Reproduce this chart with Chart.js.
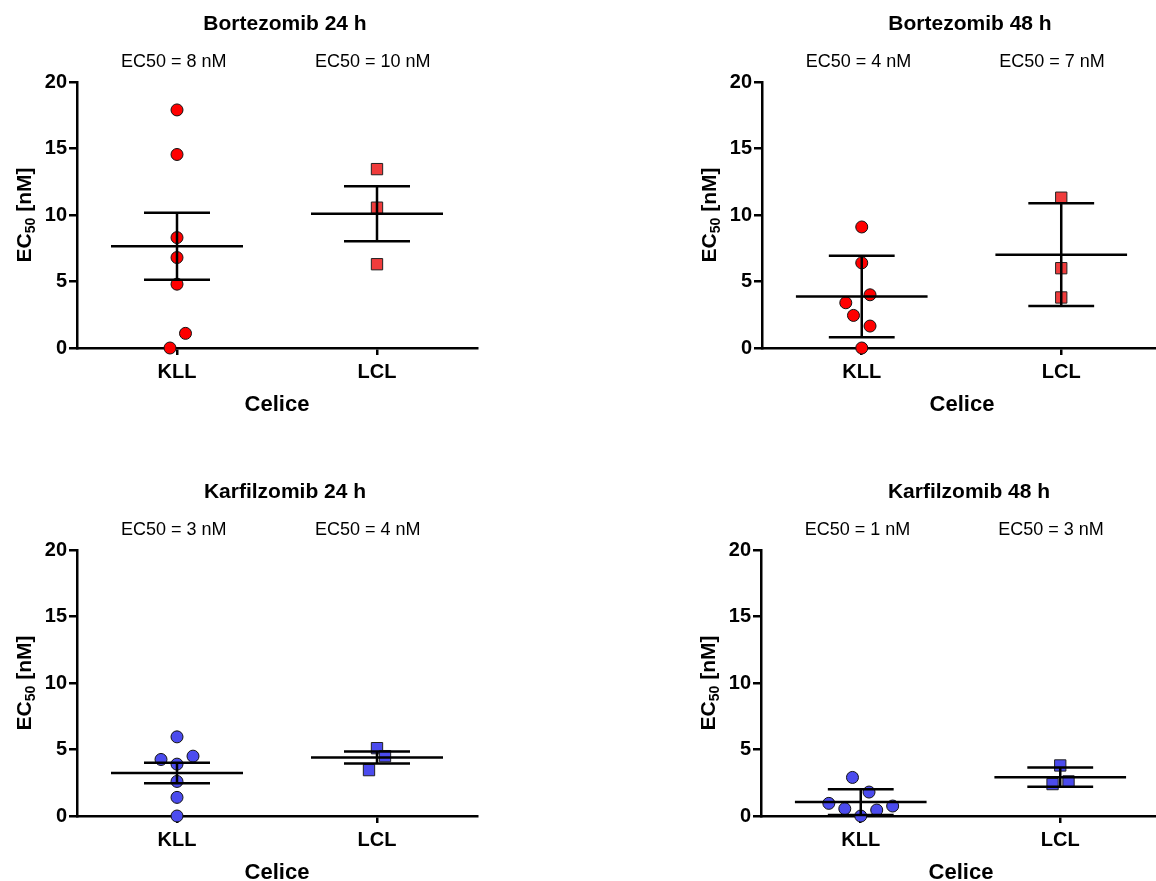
<!DOCTYPE html>
<html><head><meta charset="utf-8">
<script src="https://cdn.jsdelivr.net/npm/chart.js@4/dist/chart.umd.min.js"></script>
<style>
html,body{margin:0;padding:0;background:#fff;overflow:hidden;width:1156px;height:881px;position:relative}
canvas{position:absolute}
</style></head><body>
<canvas id="c0" width="490" height="430" style="left:0px;top:0px"></canvas>
<canvas id="c1" width="479" height="430" style="left:685px;top:0px"></canvas>
<canvas id="c2" width="490" height="430" style="left:0px;top:468px"></canvas>
<canvas id="c3" width="480" height="430" style="left:684px;top:468px"></canvas>
<script>
// ---------- data ----------
const categories = ['KLL', 'LCL'];
const yTickValues = [0, 5, 10, 15, 20];
const panelTitles = ['Bortezomib 24 h', 'Bortezomib 48 h', 'Karfilzomib 24 h', 'Karfilzomib 48 h'];
const ec50KllLabels = ['EC50 = 8 nM', 'EC50 = 4 nM', 'EC50 = 3 nM', 'EC50 = 1 nM'];
const ec50LclLabels = ['EC50 = 10 nM', 'EC50 = 7 nM', 'EC50 = 4 nM', 'EC50 = 3 nM'];
const xAxisTitle = 'Celice';
const yAxisTitleMain = 'EC';
const yAxisTitleSub = '50';
const yAxisTitleRest = ' [nM]';

const bort24Kll = [17.9, 14.55, 8.3, 6.8, 4.8, 1.1, 0];
const bort24KllJitter = [0, 0, 0, 0, 0, 0.085, -0.07];
const bort24Lcl = [13.45, 10.55, 6.3];
const bort24LclJitter = [0, 0, 0];
const bort24Mean = [7.65, 10.1];
const bort24Err = [2.52, 2.07];

const bort48Kll = [9.1, 6.4, 4.0, 3.4, 2.45, 1.65, 0];
const bort48KllJitter = [0, 0, 0.083, -0.16, -0.083, 0.083, 0];
const bort48Lcl = [11.3, 6.0, 3.8];
const bort48LclJitter = [0, 0, 0];
const bort48Mean = [3.87, 7.02];
const bort48Err = [3.06, 3.86];

const karf24Kll = [5.95, 4.25, 4.5, 3.9, 2.6, 1.4, 0];
const karf24KllJitter = [0, -0.16, 0.16, 0, 0, 0, 0];
const karf24Lcl = [5.1, 4.5, 3.45];
const karf24LclJitter = [0, 0.08, -0.08];
const karf24Mean = [3.23, 4.4];
const karf24Err = [0.77, 0.45];

const karf48Kll = [2.9, 1.8, 0.95, 0.55, 0.45, 0.75, 0];
const karf48KllJitter = [-0.083, 0.083, -0.32, -0.16, 0.16, 0.32, 0];
const karf48Lcl = [3.8, 2.6, 2.4];
const karf48LclJitter = [0, 0.083, -0.077];
const karf48Mean = [1.05, 2.92];
const karf48Err = [0.97, 0.72];

// ---------- styles ----------
const FONT = 'Arial, "Liberation Sans", sans-serif';
Chart.defaults.font.family = FONT;
Chart.defaults.color = '#000';
const RED_CIRCLE = '#ff0000';
const RED_SQUARE = '#f03c3c';
const BLUE = '#4b4bee';
const MEAN_HALF = 0.66, CAP_HALF = 0.33;

const panels = [
  {canvas: 'c0', kll: bort24Kll, kllJ: bort24KllJitter, lcl: bort24Lcl, lclJ: bort24LclJitter, mean: bort24Mean, err: bort24Err, colC: RED_CIRCLE, colS: RED_SQUARE, xmax: 4, padR: 13},
  {canvas: 'c1', kll: bort48Kll, kllJ: bort48KllJitter, lcl: bort48Lcl, lclJ: bort48LclJitter, mean: bort48Mean, err: bort48Err, colC: RED_CIRCLE, colS: RED_SQUARE, xmax: 3.94, padR: 0},
  {canvas: 'c2', kll: karf24Kll, kllJ: karf24KllJitter, lcl: karf24Lcl, lclJ: karf24LclJitter, mean: karf24Mean, err: karf24Err, colC: BLUE, colS: BLUE, xmax: 4, padR: 13},
  {canvas: 'c3', kll: karf48Kll, kllJ: karf48KllJitter, lcl: karf48Lcl, lclJ: karf48LclJitter, mean: karf48Mean, err: karf48Err, colC: BLUE, colS: BLUE, xmax: 3.95, padR: 0}
];

function catX(i) { return i * 2 + 1; }

function statsData(mean, err) {
  const out = [];
  mean.forEach((m, i) => {
    const c = catX(i), e = err[i];
    out.push({x: c - MEAN_HALF, y: m}, {x: c + MEAN_HALF, y: m}, {x: c, y: null});
    out.push({x: c - CAP_HALF, y: m + e}, {x: c + CAP_HALF, y: m + e}, {x: c, y: null});
    out.push({x: c - CAP_HALF, y: m - e}, {x: c + CAP_HALF, y: m - e}, {x: c, y: null});
    out.push({x: c, y: m - e}, {x: c, y: m + e}, {x: c, y: null});
  });
  return out;
}

panels.forEach((p, idx) => {
  const annot = {
    id: 'annot' + idx,
    afterDraw(chart) {
      const ctx = chart.ctx, a = chart.chartArea, xs = chart.scales.x;
      ctx.save();
      ctx.fillStyle = '#000';
      ctx.textBaseline = 'middle';
      // title
      ctx.font = 'bold 21px ' + FONT;
      ctx.textAlign = 'center';
      ctx.fillText(panelTitles[idx], a.left + 208, 24);
      // EC50 labels
      ctx.font = '18px ' + FONT;
      ctx.textAlign = 'left';
      ctx.fillText(ec50KllLabels[idx], xs.getPixelForValue(catX(0)) - 56, 62);
      ctx.fillText(ec50LclLabels[idx], xs.getPixelForValue(catX(1)) - 62, 62);
      // x axis title
      ctx.font = 'bold 22px ' + FONT;
      ctx.textAlign = 'center';
      ctx.fillText(xAxisTitle, a.left + 200, 405);
      // y axis title with subscript
      ctx.translate(a.left - 54, (a.top + a.bottom) / 2);
      ctx.rotate(-Math.PI / 2);
      const fMain = 'bold 21px ' + FONT, fSub = 'bold 14px ' + FONT;
      ctx.font = fMain; const w1 = ctx.measureText(yAxisTitleMain).width;
      const w3 = ctx.measureText(yAxisTitleRest).width;
      ctx.font = fSub; const w2 = ctx.measureText(yAxisTitleSub).width;
      let x0 = -(w1 + w2 + w3) / 2;
      ctx.textAlign = 'left';
      ctx.textBaseline = 'alphabetic';
      ctx.font = fMain; ctx.fillText(yAxisTitleMain, x0, 8);
      ctx.font = fSub; ctx.fillText(yAxisTitleSub, x0 + w1, 12);
      ctx.font = fMain; ctx.fillText(yAxisTitleRest, x0 + w1 + w2, 8);
      ctx.restore();
    }
  };

  new Chart(document.getElementById(p.canvas), {
    type: 'scatter',
    data: {
      datasets: [
        {
          type: 'scatter', showLine: true, spanGaps: false,
          data: statsData(p.mean, p.err),
          borderColor: '#000', borderWidth: 2.5, pointRadius: 0, order: 0, clip: false
        },
        {
          data: p.kll.map((v, i) => ({x: catX(0) + p.kllJ[i], y: v})),
          pointStyle: 'circle', pointRadius: 6, backgroundColor: p.colC,
          borderColor: '#111', borderWidth: 1, order: 1, clip: false
        },
        {
          data: p.lcl.map((v, i) => ({x: catX(1) + p.lclJ[i], y: v})),
          pointStyle: 'rect', pointRadius: 8, backgroundColor: p.colS,
          borderColor: '#222', borderWidth: 1, order: 1, clip: false
        }
      ]
    },
    options: {
      responsive: false, animation: false,
      layout: {padding: {top: 82, left: 0, right: p.padR, bottom: 0}},
      plugins: {legend: {display: false}, tooltip: {enabled: false}},
      scales: {
        x: {
          type: 'linear', min: 0, max: p.xmax,
          afterBuildTicks: s => { s.ticks = categories.map((c, i) => ({value: catX(i)})); },
          afterFit: s => { s.height = 82; },
          ticks: {
            callback: v => categories[(v - 1) / 2],
            font: {size: 20, weight: 'bold'}, color: '#000', padding: 5,
            maxRotation: 0, autoSkip: false
          },
          grid: {drawOnChartArea: false, drawTicks: true, tickLength: 7, color: '#000', lineWidth: 2.5},
          border: {display: true, color: '#000', width: 2.5}
        },
        y: {
          min: 0, max: 20,
          afterBuildTicks: s => { s.ticks = yTickValues.map(v => ({value: v})); },
          afterFit: s => { s.width = 77; },
          ticks: {font: {size: 20, weight: 'bold'}, color: '#000', padding: 2},
          grid: {drawOnChartArea: false, drawTicks: true, tickLength: 8, color: '#000', lineWidth: 2.5},
          border: {display: true, color: '#000', width: 2.5}
        }
      }
    },
    plugins: [annot]
  });
});
</script>
</body></html>
